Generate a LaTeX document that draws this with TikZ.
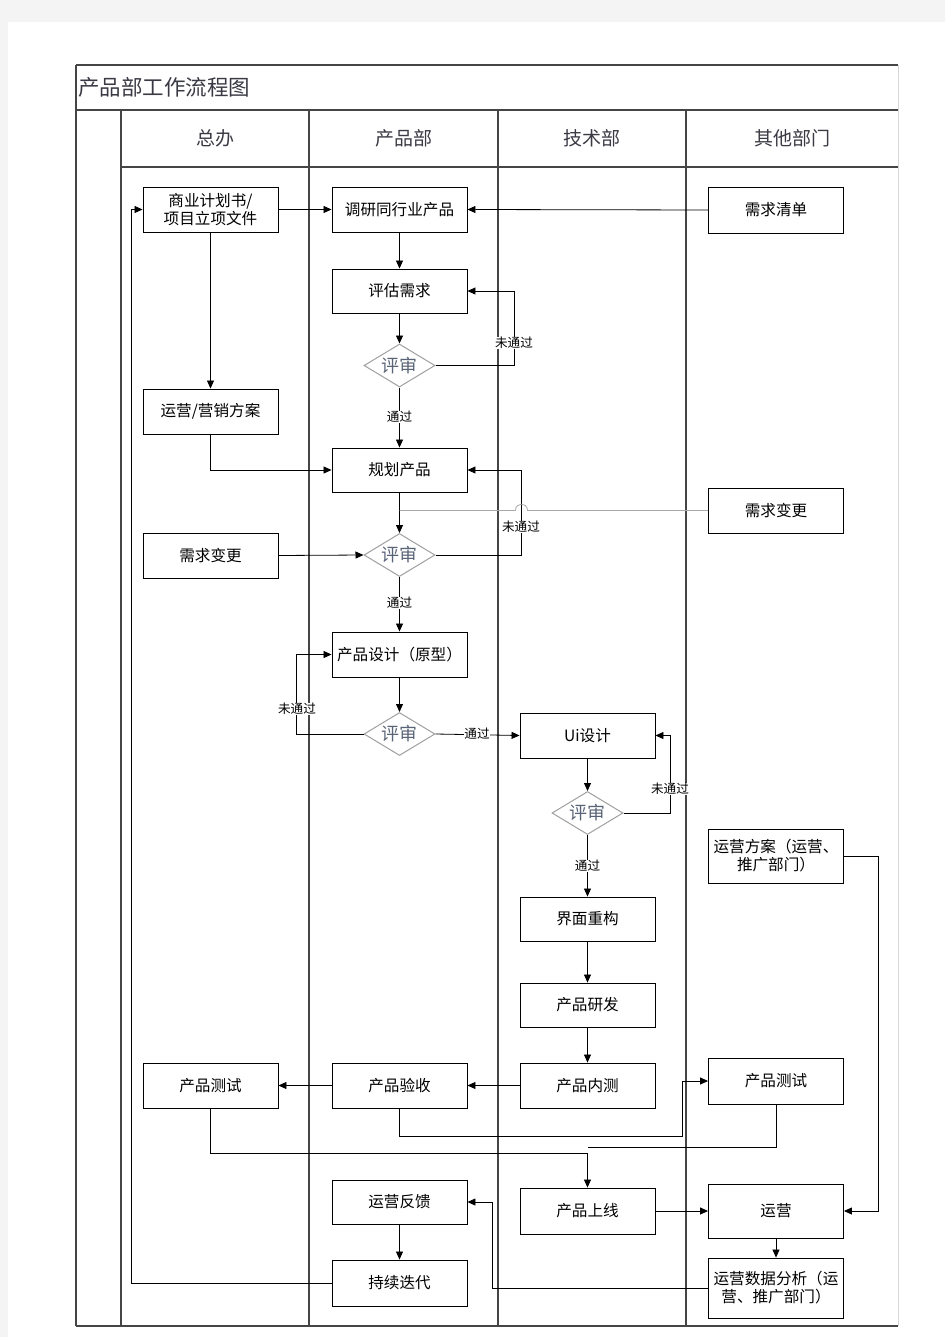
\documentclass[tikz,border=0pt]{standalone}
\usepackage{fontspec}
\setmainfont{Noto Sans CJK SC}
\usetikzlibrary{shapes.geometric,arrows.meta}
\definecolor{bg}{HTML}{F4F4F4}
\definecolor{laneC}{HTML}{454545}
\definecolor{hdrC}{HTML}{3A3A44}
\definecolor{diaC}{HTML}{A0A0A0}
\definecolor{diaT}{HTML}{5A6478}
\definecolor{grayln}{HTML}{A8A8A8}
\definecolor{rightC}{HTML}{D6D6D6}
\tikzset{
  box/.style={draw=black, line width=0.9pt, fill=white, minimum width=135pt, minimum height=45pt,
    inner sep=1pt, align=center, font=\fontsize{15.6}{18}\selectfont},
  dia/.style={diamond, aspect=2, draw=diaC, line width=1pt, fill=white, minimum width=71pt,
    minimum height=43pt, inner sep=0pt, text=diaT, font=\fontsize{18}{18}\selectfont},
  arr/.style={draw=black, line width=0.8pt, -{Triangle[length=8pt,width=7pt]}},
  con/.style={draw=black, line width=0.8pt},
  lbl/.style={fill=white, inner sep=0.5pt, font=\fontsize{12.6}{13}\selectfont},
  lane/.style={draw=laneC, line width=1.1pt},
  thick row/.style={draw=laneC, line width=1.8pt},
  hdr/.style={text=hdrC, font=\fontsize{19}{20}\selectfont}
}
\begin{document}
\begin{tikzpicture}[x=1pt,y=-1pt]
\useasboundingbox (0,0) rectangle (945,1337);
\fill[bg] (0,0) rectangle (945,1337);
\fill[white] (8,22) rectangle (945,1337);
% table frame
\draw[rightC, line width=1pt] (898,65) -- (898,1326);
\draw[thick row] (76,65) -- (898,65);
\draw[thick row] (76,110) -- (898,110);
\draw[thick row] (121,167) -- (898,167);
\draw[lane] (76,65) -- (76,1326);
\draw[lane] (121,110) -- (121,1326);
\draw[lane] (309,110) -- (309,1326);
\draw[lane] (498,110) -- (498,1326);
\draw[lane] (686,110) -- (686,1326);
\draw[lane] (76,1326) -- (898,1326);
% title and headers
\node[anchor=west, font=\fontsize{21.5}{22}\selectfont, text=hdrC, inner sep=0pt] (title) at (78,87) {产品部工作流程图};
\node[hdr] (h1) at (215,138) {总办};
\node[hdr] (h2) at (403.5,138) {产品部};
\node[hdr] (h3) at (592,138) {技术部};
\node[hdr] (h4) at (792,138) {其他部门};
% nodes
\node[box] (a1) at (210.5,209.5) {商业计划书/\\项目立项文件};
\node[box] (b1) at (399.5,209.5) {调研同行业产品};
\node[box, minimum height=46pt] (d0) at (776,210) {需求清单};
\node[box, minimum height=44pt] (b2) at (399.5,291) {评估需求};
\node[dia] (r1) at (399.5,365.5) {评审};
\node[box] (a2) at (210.5,411.5) {运营/营销方案};
\node[box, minimum height=44pt] (b3) at (399.5,470) {规划产品};
\node[box] (d1) at (776,510.5) {需求变更};
\node[box] (a3) at (210.5,555.5) {需求变更};
\node[dia] (r2) at (399.5,555) {评审};
\node[box] (b4) at (399.5,654.5) {产品设计（原型）};
\node[dia] (r3) at (399.5,734) {评审};
\node[box] (c1) at (587.5,735.5) {Ui设计};
\node[dia] (r4) at (587.5,813) {评审};
\node[box, minimum height=54pt] (d2) at (776,856) {运营方案（运营、\\推广部门）};
\node[box, minimum height=44pt] (c2) at (587.5,919) {界面重构};
\node[box, minimum height=44pt] (c3) at (587.5,1005) {产品研发};
\node[box] (a4) at (210.5,1085.5) {产品测试};
\node[box] (b5) at (399.5,1085.5) {产品验收};
\node[box] (c4) at (587.5,1085.5) {产品内测};
\node[box, minimum height=46pt] (d3) at (776,1081) {产品测试};
\node[box, minimum height=44pt] (b6) at (399.5,1202) {运营反馈};
\node[box, minimum height=46pt] (c5) at (587.5,1211) {产品上线};
\node[box, minimum height=54pt] (d4) at (776,1211) {运营};
\node[box, minimum height=46pt] (b7) at (399.5,1283) {持续迭代};
\node[box, minimum height=60pt] (d5) at (776,1288) {运营数据分析（运\\营、推广部门）};
\coordinate (j1) at (399.5,510.5);
\coordinate (m2) at (587.5,1147);
% connectors
\draw[arr] (a1.east) -- (b1.west);
\draw[arr] (d0.west) -- (b1.east);
\draw[arr] (b1.south) -- (b2.north);
\draw[arr] (b2.south) -- (r1.north);
\draw[arr] (r1.east) -- ++(79,0) |- (b2.east);
\draw[arr] (r1.south) -- (b3.north);
\draw[arr] (a1.south) -- (a2.north);
\draw[arr] (a2.south) |- (b3.west);
\draw[arr] (b3.south) -- (r2.north);
\draw[arr] (r2.east) -- ++(86,0) |- (b3.east);
\draw[arr] (a3.east) -- (r2.west);
\draw[grayln, line width=0.8pt] (d1.west) -- (527.5,510.5) .. controls (527.5,502) and (515.5,502) .. (515.5,510.5) -- (j1);
\draw[arr] (r2.south) -- (b4.north);
\draw[arr] (b4.south) -- (r3.north);
\draw[arr] (r3.west) -- ++(-67,0) |- (b4.west);
\draw[arr] (r3.east) -- (c1.west);
\draw[arr] (c1.south) -- (r4.north);
\draw[arr] (r4.east) -- ++(47,0) |- (c1.east);
\draw[arr] (r4.south) -- (c2.north);
\draw[arr] (c2.south) -- (c3.north);
\draw[arr] (c3.south) -- (c4.north);
\draw[arr] (c4.west) -- (b5.east);
\draw[arr] (b5.west) -- (a4.east);
\draw[arr] (b5.south) -- ++(0,27.5) -- ++(283,0) |- (d3.west);
\draw[arr] (a4.south) -- ++(0,45) -| (c5.north);
\draw[con] (d3.south) |- (m2);
\draw[arr] (c5.east) -- (d4.west);
\draw[arr] (d2.east) -- ++(34,0) |- (d4.east);
\draw[arr] (d4.south) -- (d5.north);
\draw[arr] (d5.west) -- ++(-216,0) |- (b6.east);
\draw[arr] (b6.south) -- (b7.north);
\draw[arr] (b7.west) -- ++(-200,0) |- (a1.west);
% labels
\node[lbl] (l1) at (514,343) {未通过};
\node[lbl] (l2) at (399.5,417) {通过};
\node[lbl] (l3) at (521,527) {未通过};
\node[lbl] (l4) at (399.5,603) {通过};
\node[lbl] (l5) at (297,709) {未通过};
\node[lbl] (l6) at (477,734) {通过};
\node[lbl] (l7) at (670,789) {未通过};
\node[lbl] (l8) at (587.5,866) {通过};
\end{tikzpicture}
\end{document}
